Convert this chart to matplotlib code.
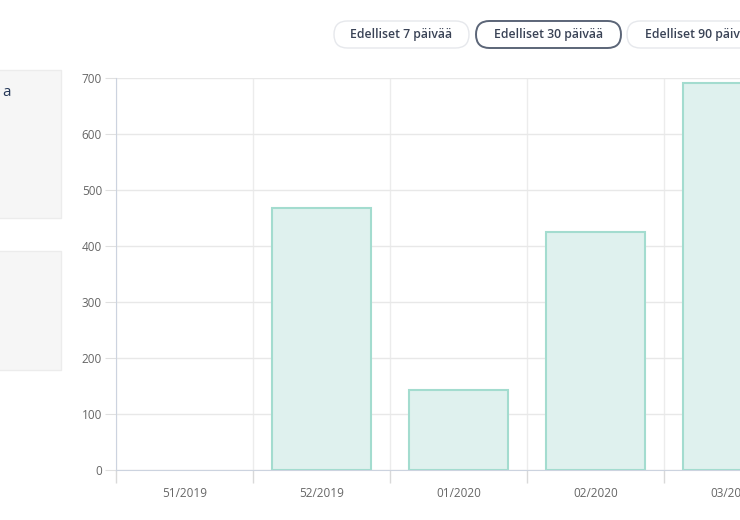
import matplotlib.pyplot as plt
from matplotlib.patches import FancyBboxPatch, Rectangle

weeks = ["51/2019", "52/2019", "01/2020", "02/2020", "03/2020"]
values = [0, 468, 143, 425, 691]
y_ticks = [0, 100, 200, 300, 400, 500, 600, 700]
buttons = ["Edelliset 7 päivää", "Edelliset 30 päivää", "Edelliset 90 päivää"]

plt.rcParams["font.family"] = ["Open Sans", "DejaVu Sans"]

fig = plt.figure(figsize=(7.4, 5.2), dpi=100)
W, H = 740, 520

# axes runs past the right edge, like the cropped screenshot
ax = fig.add_axes([116 / W, 50 / H, 685 / W, 392 / H])
x = list(range(len(weeks)))
bars = ax.bar(x, values, width=0.72, color="#dff1ee", edgecolor="#a3dccf", linewidth=1.5, zorder=3)
for b, v in zip(bars, values):
    if v == 0:
        b.set_visible(False)

ax.set_xlim(-0.5, len(weeks) - 0.5)
ax.set_ylim(0, 700)
ax.set_yticks(y_ticks)
ax.set_xticks(x)
ax.set_xticklabels(weeks)
ax.set_xticks([i - 0.5 for i in range(len(weeks) + 1)], minor=True)

ax.grid(axis="y", color="#e8e8e8", linewidth=1, zorder=0)
ax.grid(axis="x", which="minor", color="#ececec", linewidth=1, zorder=0)
ax.tick_params(axis="x", which="major", length=0, pad=12, labelsize=8.5, labelcolor="#666666")
ax.tick_params(axis="x", which="minor", length=9, color="#d9d9d9", width=1)
ax.tick_params(axis="y", length=8, color="#e0e0e0", labelsize=8.5, labelcolor="#666666", pad=2)

for s in ["top", "right"]:
    ax.spines[s].set_visible(False)
ax.spines["left"].set_color("#ccd3df")
ax.spines["bottom"].set_color("#ccd3df")
ax.spines["bottom"].set_linestyle((0, (2, 1)))

# buttons on top, drawn in pixel space
px = fig.dpi_scale_trans
spans = [(334, 469), (476, 621), (627, 772)]
for (x0, x1), label in zip(spans, buttons):
    active = label == buttons[1]
    box = FancyBboxPatch((x0 / 100 + 0.135, (H - 48) / 100 + 0.135), (x1 - x0) / 100 - 0.27, 0.0001,
                         boxstyle="round,pad=0.135,rounding_size=0.135", transform=px,
                         facecolor="white", edgecolor="#5b6577" if active else "#e6e8ec",
                         linewidth=1.4 if active else 1.0)
    fig.patches.append(box)
    fig.text((x0 + x1) / 2 / W, (H - 34.5) / H, label, ha="center", va="center",
             fontsize=8.8, color="#3a4356", fontweight="semibold")

# left side panels
for y0, y1 in [(70, 218), (251, 370)]:
    fig.patches.append(Rectangle((-5 / 100, (H - y1) / 100), 66 / 100, (y1 - y0) / 100,
                                 transform=px, facecolor="#f6f6f6", edgecolor="#ececec", linewidth=1))
fig.text(2 / W, (H - 93) / H, "a", ha="left", va="center", fontsize=11, color="#253858")

fig.savefig("out.png", dpi=100)
